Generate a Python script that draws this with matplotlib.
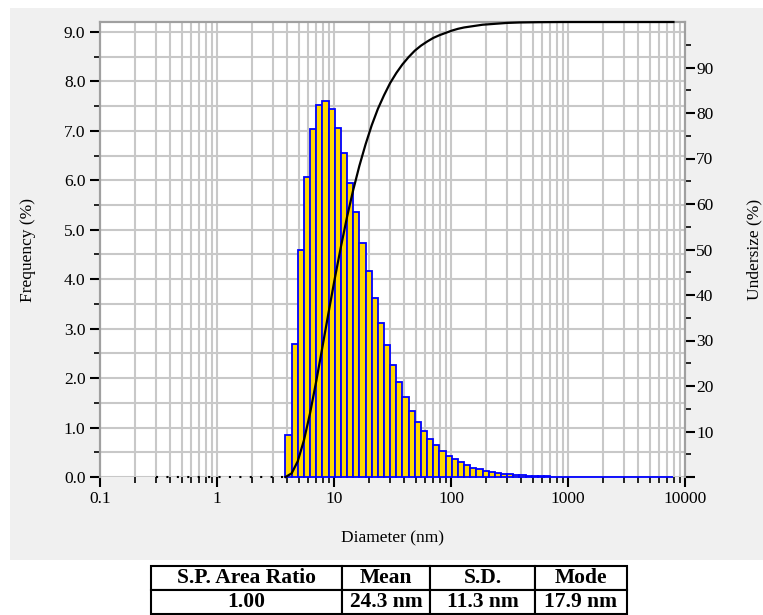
#!/usr/bin/env python3

import numpy as np
import matplotlib
matplotlib.use('Agg')
import matplotlib.pyplot as plt
from matplotlib.patches import Rectangle
from matplotlib.ticker import FixedLocator, NullFormatter

plt.rcParams['font.family'] = ['Liberation Serif', 'DejaVu Serif']

# size channels: first channel edge and log spacing of the instrument
first_edge = 3.85          # nm
bins_per_decade = 19

# frequency (%) per channel
frequency = [0.84, 2.69, 4.59, 6.07, 7.03, 7.53, 7.61, 7.45, 7.06, 6.56,
             5.95, 5.35, 4.73, 4.16, 3.62, 3.11, 2.66, 2.26, 1.92, 1.61,
             1.34, 1.12, 0.93, 0.77, 0.64, 0.52, 0.43, 0.36, 0.30, 0.24,
             0.18, 0.16, 0.13, 0.11, 0.09, 0.07, 0.06, 0.05, 0.04, 0.03,
             0.03, 0.02, 0.02, 0.01, 0.01, 0.01] + [0.0] * 17

# cumulative undersize (%) at each channel edge
undersize = [0.0, 0.8, 3.5, 8.1, 14.1, 21.1, 28.6, 36.2, 43.6, 50.6,
             57.2, 63.1, 68.4, 73.1, 77.3, 80.9, 83.9, 86.6, 88.8, 90.7,
             92.3, 93.7, 94.8, 95.7, 96.5, 97.1, 97.6, 98.1, 98.5, 98.8,
             99.0, 99.2, 99.4, 99.5, 99.6, 99.7, 99.8, 99.85, 99.9, 99.92,
             99.94, 99.96, 99.97, 99.98, 99.99, 100.0, 100.0] + [100.0] * 17

# undersize stays at zero below the first channel
zero_start = 0.3           # nm

x_ticks = [0.1, 1, 10, 100, 1000, 10000]
x_tick_labels = ['0.1', '1', '10', '100', '1000', '10000']

table_header = ['S.P. Area Ratio', 'Mean', 'S.D.', 'Mode']
table_values = ['1.00', '24.3 nm', '11.3 nm', '17.9 nm']

W, H = 763, 615
fig = plt.figure(figsize=(W / 100, H / 100), dpi=100, facecolor='white')

# grey panel behind the chart
fig.patches.append(Rectangle((10 / W, 1 - 560 / H), 1, (560 - 8) / H,
                             transform=fig.transFigure, facecolor='#f0f0f0',
                             edgecolor='none', zorder=-10))

ax = fig.add_axes([100 / W, 1 - 477 / H, 585 / W, 455 / H])
ax.set_facecolor('white')

edges = first_edge * 10 ** (np.arange(len(frequency) + 1) / bins_per_decade)
ax.bar(edges[:-1], frequency, width=np.diff(edges), align='edge',
       color='#FFD700', edgecolor='#0000FF', linewidth=1.3, clip_on=False,
       zorder=2)

ax.set_xscale('log')
ax.set_xlim(0.1, 10000)
ax.set_ylim(0, 9.2)

ax.xaxis.set_major_locator(FixedLocator(x_ticks))
ax.set_xticklabels(x_tick_labels)
minor_x = [m * 10.0 ** d for d in range(-1, 4) for m in range(2, 10)]
ax.xaxis.set_minor_locator(FixedLocator(minor_x))
ax.xaxis.set_minor_formatter(NullFormatter())

ax.set_yticks(np.arange(0, 10))
ax.set_yticklabels([f'{v:.1f}' for v in range(10)])
ax.yaxis.set_minor_locator(FixedLocator(np.arange(0.5, 9.5, 1.0)))

ax.grid(True, which='both', color='#c8c8c8', linewidth=1.5)
ax.set_axisbelow(True)
ax.tick_params(which='major', length=7, width=1.5, color='black',
               labelsize=12.5, direction='out')
ax.tick_params(which='minor', length=4, width=1.2, color='black',
               direction='out')
ax.tick_params(axis='x', which='major', pad=3)

ax.spines['bottom'].set_visible(False)
for side in ['left', 'top', 'right']:
    ax.spines[side].set_color('#a0a0a0')
    ax.spines[side].set_linewidth(1.5)

ax.set_xlabel('Diameter (nm)', fontsize=12.5, labelpad=17)
ax.set_ylabel('Frequency (%)', fontsize=12.5, labelpad=20)

# undersize curve on the right axis
ax2 = ax.twinx()
ax2.plot(edges[:len(undersize)], undersize, color='black', linewidth=1.6,
         clip_on=False, zorder=3)
ax2.plot([zero_start, first_edge], [0, 0], color='black', linewidth=1.5,
         linestyle=(0, (1, 4)), clip_on=False, zorder=3)
ax2.set_ylim(0, 100)
ax2.set_yticks(np.arange(0, 100, 10))
ax2.set_yticklabels([''] + [str(v) for v in range(10, 100, 10)])
ax2.yaxis.set_minor_locator(FixedLocator(np.arange(5, 100, 10)))
ax2.tick_params(which='major', length=7, width=1.5, color='black',
                labelsize=12.5, pad=1)
ax2.tick_params(which='minor', length=4, width=1.2, color='black')
ax2.spines['bottom'].set_visible(False)
for side in ['left', 'top', 'right']:
    ax2.spines[side].set_color('#a0a0a0')
    ax2.spines[side].set_linewidth(1.5)
ax2.set_ylabel('Undersize (%)', fontsize=12.5, labelpad=24)

# summary table under the chart
col_px = [191, 88.3, 105, 91.7]
ax_t = fig.add_axes([150.7 / W, 1 - 614 / H, sum(col_px) / W, 48 / H])
ax_t.axis('off')
tbl = ax_t.table(cellText=[table_header, table_values], cellLoc='center',
                 colWidths=[c / sum(col_px) for c in col_px], bbox=[0, 0, 1, 1])
tbl.auto_set_font_size(False)
for cell in tbl.get_celld().values():
    cell.set_linewidth(1.5)
    cell.set_facecolor('white')
    cell.get_text().set_fontsize(15.5)
    cell.get_text().set_fontweight('bold')

fig.savefig('out.png', dpi=100, facecolor='white')
